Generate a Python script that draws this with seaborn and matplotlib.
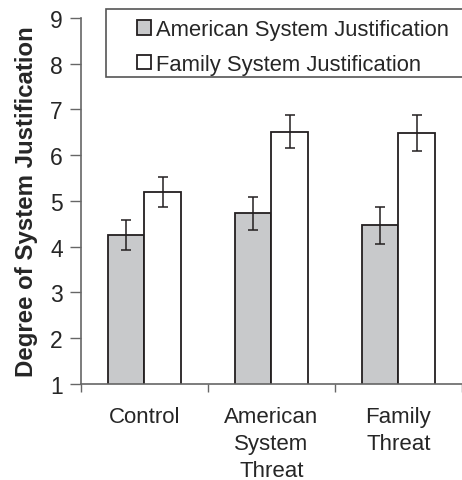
import matplotlib
matplotlib.use("Agg")
import matplotlib.pyplot as plt
from matplotlib.patches import Rectangle
import seaborn as sns
import pandas as pd

# ---- data ----
conditions = ["Control", "American\nSystem\nThreat", "Family\nThreat"]
measures = ["American System Justification", "Family System Justification"]
american_means = [4.25, 4.73, 4.47]
family_means = [5.20, 6.51, 6.49]
american_err = [0.33, 0.36, 0.40]
family_err = [0.33, 0.36, 0.39]

df = pd.DataFrame({
    "condition": conditions * 2,
    "measure": [measures[0]] * 3 + [measures[1]] * 3,
    "score": american_means + family_means,
})

sns.set_style("white")
plt.rcParams["font.family"] = ["Liberation Sans", "DejaVu Sans"]

fig = plt.figure(figsize=(4.62, 4.81), dpi=100)
ax = fig.add_axes([0.1753, 0.1996, 0.8247, 0.7609])

sns.barplot(data=df, x="condition", y="score", hue="measure",
            palette=["#c8c9cb", "white"], width=0.575,
            edgecolor="#231f20", linewidth=1.3, errorbar=None, ax=ax)

# error bars at the bar centres
for bars, errs in zip(ax.containers, [american_err, family_err]):
    xs = [b.get_x() + b.get_width() / 2 for b in bars]
    ys = [b.get_height() for b in bars]
    ax.errorbar(xs, ys, yerr=errs, fmt="none", ecolor="#231f20",
                elinewidth=1.1, capsize=3.6, capthick=1.1)

ax.set_ylim(1, 9)
ax.set_xlim(-0.5, 2.5)
ax.set_yticks(range(1, 10))

# tick marks between groups, labels at group centres
ax.set_xticks([-0.5, 0.5, 1.5, 2.5])
ax.set_xticklabels([])
ax.set_xticks([0, 1, 2], minor=True)
ax.set_xticklabels(conditions, minor=True, fontsize=16, linespacing=1.38)
ax.tick_params(axis="x", which="major", direction="out", length=6,
               width=1, color="#666666", bottom=True)
ax.tick_params(axis="x", which="minor", length=0, pad=16)
ax.tick_params(axis="y", direction="out", length=8, width=1,
               color="#666666", left=True, labelsize=16.5, pad=5)

for s in ["top", "right"]:
    ax.spines[s].set_visible(False)
for s in ["left", "bottom"]:
    ax.spines[s].set_color("#666666")
    ax.spines[s].set_linewidth(1.2)

ax.set_xlabel("")
ax.set_ylabel("Degree of System Justification", fontsize=17.3,
              fontweight="bold", labelpad=9)

# legend frame runs off the right edge of the figure
frame = Rectangle((106 / 462, 1 - 78 / 481), 0.9, 68 / 481,
                  transform=fig.transFigure, facecolor="white",
                  edgecolor="#555555", linewidth=1.2, zorder=4,
                  clip_on=False)
ax.add_artist(frame)
leg = ax.legend(loc="upper left", bbox_to_anchor=(127 / 462, 1 - 10 / 481),
                bbox_transform=fig.transFigure,
                fontsize=15.8, frameon=False,
                handlelength=0.66, handleheight=0.66,
                handletextpad=0.22, borderpad=0.45, labelspacing=0.63,
                borderaxespad=0)
leg.set_zorder(6)
for h in leg.legend_handles:
    h.set_edgecolor("#231f20")
    h.set_linewidth(1.3)

fig.savefig("out.png", dpi=100)
